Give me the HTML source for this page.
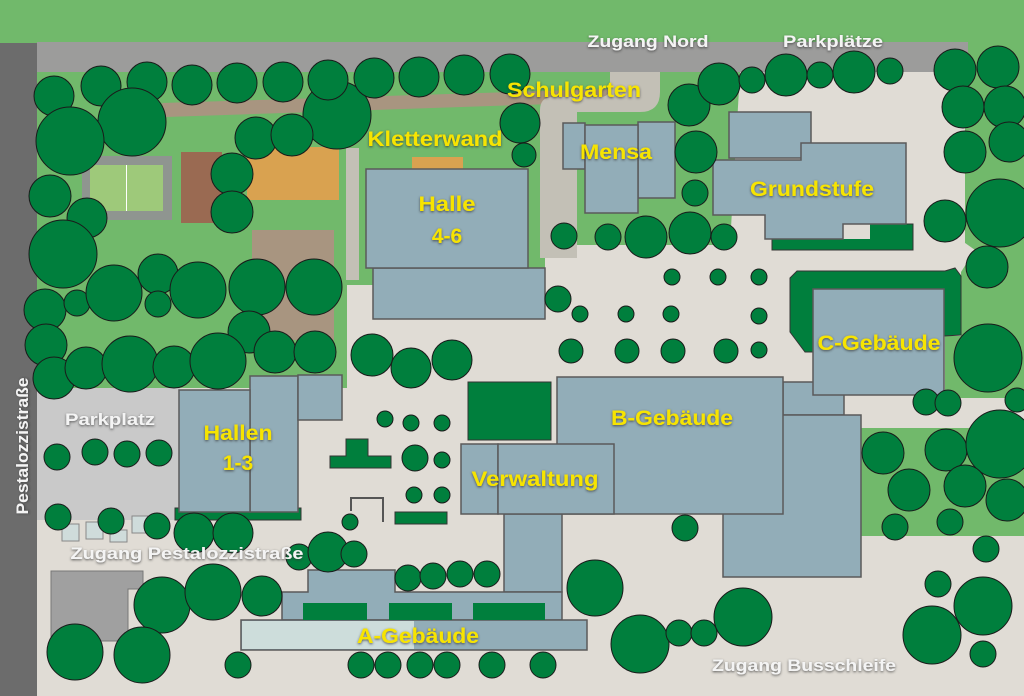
<!DOCTYPE html>
<html><head><meta charset="utf-8"><style>
html,body{margin:0;padding:0;width:1024px;height:696px;overflow:hidden;background:#e0dcd5}
svg{display:block}
.y{font-family:"Liberation Sans",sans-serif;font-weight:bold;font-size:21px;fill:#f7e400;filter:url(#sh)}
.w{font-family:"Liberation Sans",sans-serif;font-weight:bold;font-size:17px;fill:#f4f4f4;filter:url(#sh)}
</style></head><body>
<svg width="1024" height="696" viewBox="0 0 1024 696" xmlns="http://www.w3.org/2000/svg">
<defs>
<filter id="sh" x="-10%" y="-30%" width="120%" height="160%"><feDropShadow dx="0" dy="1" stdDeviation="1.2" flood-color="#333" flood-opacity="0.8"/></filter>
</defs>
<rect width="1024" height="696" fill="#e0dcd5"/>
<!-- top green -->
<rect x="0" y="0" width="1024" height="44" fill="#71b96b"/>
<!-- right greens -->
<polygon points="955,42 1024,42 1024,398 945,398 945,336 961,336 961,272 975,250 958,238 945,200 952,160 942,110 945,72" fill="#71b96b"/>
<rect x="860" y="428" width="164" height="108" fill="#71b96b"/>
<!-- left lawn -->
<rect x="37" y="72" width="310" height="316" fill="#71b96b"/>
<rect x="340" y="72" width="205" height="213" fill="#71b96b"/>
<polygon points="540,72 740,72 730,245 540,245" fill="#71b96b"/>
<rect x="740" y="72" width="225" height="175" fill="#e0dcd5"/>
<!-- road -->
<rect x="37" y="42" width="931" height="30" fill="#9c9c9b"/>
<rect x="0" y="43" width="37" height="653" fill="#6c6c6c"/>
<!-- tan path -->
<polygon points="162,103 640,88 640,101 166,117" fill="#a89580"/>
<rect x="252" y="230" width="82" height="110" fill="#a89580"/>
<!-- grey path -->
<rect x="346" y="148" width="13" height="132" fill="#c3c0b6"/>
<path d="M540,258 L540,110 Q540,97 553,97 L600,97 Q610,97 610,87 L610,72 L660,72 L660,92 Q660,112 640,112 L577,112 L577,258 Z" fill="#c3c0b6"/>
<!-- sports -->
<rect x="82" y="156" width="90" height="64" fill="#8f9590"/>
<rect x="90" y="165" width="73" height="46" fill="#9ec97a"/>
<rect x="126" y="165" width="1" height="46" fill="#fff"/>
<rect x="181" y="152" width="41" height="71" fill="#9a6a52"/>
<rect x="247" y="147" width="92" height="53" fill="#d9a250"/>
<rect x="412" y="157" width="51" height="13" fill="#d9a250"/>
<!-- parkplatz -->
<rect x="37" y="388" width="143" height="132" fill="#c9c9c9"/>
<polygon points="51,571 143,571 143,589 128,589 128,641 51,641" fill="#a0a0a0" stroke="#777" stroke-width="1"/>
<g fill="#cfdcdb" stroke="#888" stroke-width="1">
<rect x="62" y="524" width="17" height="17"/><rect x="86" y="522" width="17" height="17"/><rect x="110" y="530" width="17" height="12"/><rect x="132" y="516" width="16" height="17"/>
</g>
<!-- dark green shapes -->
<g fill="#007f3d" stroke="#333" stroke-width="1">
<polygon points="790,278 797,271 945,271 955,268 961,276 961,335 944,336 944,395 813,395 813,352 805,352 790,332"/>
<polygon points="772,224 913,224 913,250 772,250"/>
<rect x="468" y="382" width="83" height="58"/>
<polygon points="346,439 368,439 368,456 391,456 391,468 330,468 330,456 346,456"/>
<rect x="395" y="512" width="52" height="12"/>
<rect x="175" y="508" width="126" height="12"/>
</g>
<rect x="843" y="224" width="27" height="15" fill="#e0dcd5"/>
<polyline points="351,511 351,498 383,498 383,522" fill="none" stroke="#555" stroke-width="2"/>
<!-- buildings -->
<g fill="#92adb8" stroke="#5a5a5a" stroke-width="1.5">
<rect x="373" y="268" width="172" height="51"/>
<rect x="366" y="169" width="162" height="99"/>
<rect x="563" y="123" width="22" height="46"/>
<rect x="638" y="122" width="37" height="76"/>
<rect x="585" y="125" width="53" height="88"/>
<rect x="729" y="112" width="82" height="46"/>
<polygon points="713,160 801,160 801,143 906,143 906,224 843,224 843,239 765,239 765,215 713,215"/>
<rect x="783" y="382" width="61" height="33"/>
<rect x="723" y="415" width="138" height="162"/>
<rect x="813" y="289" width="131" height="106"/>
<rect x="557" y="377" width="226" height="137"/>
<rect x="504" y="514" width="58" height="78"/>
<rect x="461" y="444" width="37" height="70"/>
<rect x="498" y="444" width="116" height="70"/>
<polygon points="308,570 395,570 395,592 562,592 562,620 282,620 282,592 308,592"/>
<rect x="250" y="376" width="48" height="136"/>
<rect x="298" y="375" width="44" height="45"/>
<rect x="179" y="390" width="71" height="122"/>
<rect x="241" y="620" width="346" height="30"/>
</g>
<rect x="242" y="621" width="172" height="28" fill="#cddddb"/>
<g fill="#007f3d"><rect x="303" y="603" width="64" height="17"/><rect x="389" y="603" width="63" height="17"/><rect x="473" y="603" width="72" height="17"/></g>
<!-- trees -->
<g fill="#007f3d" stroke="#1a1a1a" stroke-width="1">
<circle cx="54" cy="96" r="20"/><circle cx="101" cy="86" r="20"/><circle cx="147" cy="82" r="20"/><circle cx="192" cy="85" r="20"/><circle cx="237" cy="83" r="20"/><circle cx="283" cy="82" r="20"/>
<circle cx="337" cy="115" r="34"/><circle cx="328" cy="80" r="20"/><circle cx="374" cy="78" r="20"/><circle cx="419" cy="77" r="20"/><circle cx="464" cy="75" r="20"/><circle cx="510" cy="74" r="20"/>
<circle cx="132" cy="122" r="34"/><circle cx="70" cy="141" r="34"/>
<circle cx="256" cy="138" r="21"/><circle cx="292" cy="135" r="21"/><circle cx="232" cy="174" r="21"/><circle cx="232" cy="212" r="21"/>
<circle cx="50" cy="196" r="21"/><circle cx="87" cy="218" r="20"/><circle cx="63" cy="254" r="34"/>
<circle cx="45" cy="310" r="21"/><circle cx="77" cy="303" r="13"/><circle cx="114" cy="293" r="28"/><circle cx="158" cy="274" r="20"/><circle cx="158" cy="304" r="13"/><circle cx="198" cy="290" r="28"/><circle cx="257" cy="287" r="28"/><circle cx="314" cy="287" r="28"/><circle cx="249" cy="332" r="21"/>
<circle cx="46" cy="345" r="21"/><circle cx="54" cy="378" r="21"/><circle cx="86" cy="368" r="21"/><circle cx="130" cy="364" r="28"/><circle cx="174" cy="367" r="21"/><circle cx="218" cy="361" r="28"/><circle cx="275" cy="352" r="21"/><circle cx="315" cy="352" r="21"/>
<circle cx="372" cy="355" r="21"/><circle cx="411" cy="368" r="20"/><circle cx="452" cy="360" r="20"/>
<circle cx="520" cy="123" r="20"/><circle cx="524" cy="155" r="12"/>
<circle cx="564" cy="236" r="13"/><circle cx="608" cy="237" r="13"/><circle cx="646" cy="237" r="21"/><circle cx="690" cy="233" r="21"/><circle cx="724" cy="237" r="13"/><circle cx="695" cy="193" r="13"/><circle cx="696" cy="152" r="21"/><circle cx="689" cy="105" r="21"/><circle cx="719" cy="84" r="21"/><circle cx="752" cy="80" r="13"/><circle cx="786" cy="75" r="21"/><circle cx="820" cy="75" r="13"/><circle cx="854" cy="72" r="21"/><circle cx="890" cy="71" r="13"/>
<circle cx="955" cy="70" r="21"/><circle cx="998" cy="67" r="21"/><circle cx="963" cy="107" r="21"/><circle cx="1005" cy="107" r="21"/><circle cx="965" cy="152" r="21"/><circle cx="1009" cy="142" r="20"/><circle cx="945" cy="221" r="21"/><circle cx="1000" cy="213" r="34"/><circle cx="987" cy="267" r="21"/>
<circle cx="672" cy="277" r="8"/><circle cx="718" cy="277" r="8"/><circle cx="759" cy="277" r="8"/><circle cx="558" cy="299" r="13"/><circle cx="580" cy="314" r="8"/><circle cx="626" cy="314" r="8"/><circle cx="671" cy="314" r="8"/><circle cx="759" cy="316" r="8"/>
<circle cx="571" cy="351" r="12"/><circle cx="627" cy="351" r="12"/><circle cx="673" cy="351" r="12"/><circle cx="726" cy="351" r="12"/><circle cx="759" cy="350" r="8"/>
<circle cx="988" cy="358" r="34"/><circle cx="926" cy="402" r="13"/><circle cx="948" cy="403" r="13"/><circle cx="1017" cy="400" r="12"/>
<circle cx="883" cy="453" r="21"/><circle cx="946" cy="450" r="21"/><circle cx="1000" cy="444" r="34"/><circle cx="909" cy="490" r="21"/><circle cx="965" cy="486" r="21"/><circle cx="1007" cy="500" r="21"/><circle cx="895" cy="527" r="13"/><circle cx="950" cy="522" r="13"/><circle cx="986" cy="549" r="13"/>
<circle cx="685" cy="528" r="13"/><circle cx="938" cy="584" r="13"/><circle cx="983" cy="606" r="29"/><circle cx="932" cy="635" r="29"/><circle cx="983" cy="654" r="13"/>
<circle cx="640" cy="644" r="29"/><circle cx="679" cy="633" r="13"/><circle cx="704" cy="633" r="13"/><circle cx="743" cy="617" r="29"/><circle cx="595" cy="588" r="28"/>
<circle cx="57" cy="457" r="13"/><circle cx="95" cy="452" r="13"/><circle cx="127" cy="454" r="13"/><circle cx="159" cy="453" r="13"/>
<circle cx="58" cy="517" r="13"/><circle cx="111" cy="521" r="13"/><circle cx="157" cy="526" r="13"/><circle cx="194" cy="533" r="20"/><circle cx="233" cy="533" r="20"/>
<circle cx="299" cy="557" r="13"/><circle cx="328" cy="552" r="20"/><circle cx="354" cy="554" r="13"/><circle cx="350" cy="522" r="8"/>
<circle cx="385" cy="419" r="8"/><circle cx="411" cy="423" r="8"/><circle cx="442" cy="423" r="8"/><circle cx="415" cy="458" r="13"/><circle cx="442" cy="460" r="8"/><circle cx="414" cy="495" r="8"/><circle cx="442" cy="495" r="8"/>
<circle cx="162" cy="605" r="28"/><circle cx="213" cy="592" r="28"/><circle cx="262" cy="596" r="20"/><circle cx="75" cy="652" r="28"/><circle cx="142" cy="655" r="28"/>
<circle cx="408" cy="578" r="13"/><circle cx="433" cy="576" r="13"/><circle cx="460" cy="574" r="13"/><circle cx="487" cy="574" r="13"/>
<circle cx="238" cy="665" r="13"/><circle cx="361" cy="665" r="13"/><circle cx="388" cy="665" r="13"/><circle cx="420" cy="665" r="13"/><circle cx="447" cy="665" r="13"/><circle cx="492" cy="665" r="13"/><circle cx="543" cy="665" r="13"/>
</g>
<!-- labels -->
<g text-anchor="middle">
<text class="w" x="648" y="47" textLength="121" lengthAdjust="spacingAndGlyphs">Zugang Nord</text>
<text class="w" x="833" y="47" textLength="100" lengthAdjust="spacingAndGlyphs">Parkplätze</text>
<text class="y" x="574" y="97" textLength="134" lengthAdjust="spacingAndGlyphs">Schulgarten</text>
<text class="y" x="435" y="146" textLength="135" lengthAdjust="spacingAndGlyphs">Kletterwand</text>
<text class="y" x="616" y="159" textLength="72" lengthAdjust="spacingAndGlyphs">Mensa</text>
<text class="y" x="812" y="196" textLength="124" lengthAdjust="spacingAndGlyphs">Grundstufe</text>
<text class="y" x="447" y="211" textLength="57" lengthAdjust="spacingAndGlyphs">Halle</text>
<text class="y" x="447" y="243">4-6</text>
<text class="y" x="879" y="350" textLength="123" lengthAdjust="spacingAndGlyphs">C-Gebäude</text>
<text class="y" x="672" y="425" textLength="122" lengthAdjust="spacingAndGlyphs">B-Gebäude</text>
<text class="y" x="238" y="440" textLength="69" lengthAdjust="spacingAndGlyphs">Hallen</text>
<text class="y" x="238" y="470">1-3</text>
<text class="y" x="535" y="486" textLength="127" lengthAdjust="spacingAndGlyphs">Verwaltung</text>
<text class="y" x="418" y="643" textLength="122" lengthAdjust="spacingAndGlyphs">A-Gebäude</text>
<text class="w" x="110" y="425" textLength="90" lengthAdjust="spacingAndGlyphs">Parkplatz</text>
<text class="w" x="187" y="559" textLength="233" lengthAdjust="spacingAndGlyphs">Zugang Pestalozzistraße</text>
<text class="w" x="804" y="671" textLength="184" lengthAdjust="spacingAndGlyphs">Zugang Busschleife</text>
<text class="w" x="0" y="0" transform="translate(28,446) rotate(-90)" textLength="137" lengthAdjust="spacingAndGlyphs">Pestalozzistraße</text>
</g>
</svg>
</body></html>
